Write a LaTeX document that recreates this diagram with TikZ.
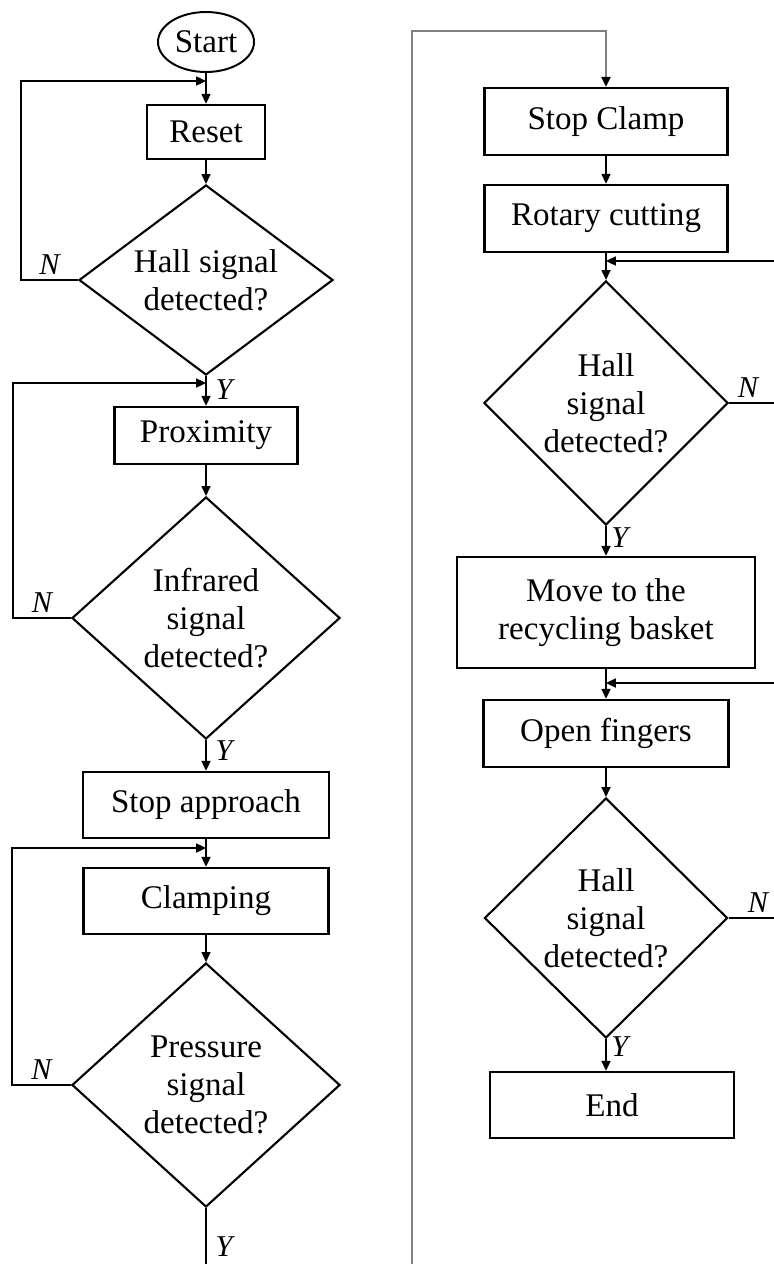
\documentclass[tikz,border=0pt]{standalone}
\usepackage{fontspec}
\setmainfont{Liberation Serif}
\usetikzlibrary{shapes.geometric,arrows.meta}

\newcommand{\chartfont}{\fontsize{23.5}{27}\selectfont}
\tikzset{
	process/.style={draw, line width=1.8pt, inner sep=0pt, align=center, font=\chartfont},
	decision/.style={draw, diamond, line width=1.5pt, inner sep=0pt, align=center, font=\chartfont},
	terminal/.style={draw, ellipse, line width=1.4pt, inner sep=0pt, font=\chartfont},
	flowline/.style={line width=0.9pt, -{Triangle[length=7pt,width=6.5pt]}},
	answer/.style={font=\fontsize{21.5}{24}\selectfont\itshape}
}

\begin{document}
\begin{tikzpicture}[x=0.025cm, y=-0.025cm]
	\useasboundingbox (0,0) rectangle (774,1264);
	% left column
	\node[terminal, minimum width=2.4cm, minimum height=1.5cm] (start) at (206,42) {Start};
	\node[process, minimum width=2.95cm, minimum height=1.35cm] (reset) at (206,132) {Reset};
	\node[decision, shape aspect=1.3, minimum width=6.35cm, minimum height=4.75cm] (hall1) at (206,280) {Hall signal\\detected?};
	\node[process, minimum width=4.575cm, minimum height=1.425cm] (proximity) at (206,435.5) {Proximity};
	\node[decision, minimum width=6.7cm, minimum height=6.05cm] (infrared) at (206,618) {Infrared\\signal\\detected?};
	\node[process, minimum width=6.15cm, minimum height=1.65cm] (stopapp) at (206,805) {Stop approach};
	\node[process, minimum width=6.125cm, minimum height=1.65cm] (clamping) at (206,901) {Clamping};
	\node[decision, minimum width=6.7cm, minimum height=6.1cm] (pressure) at (206,1085) {Pressure\\signal\\detected?};
	% right column
	\node[process, minimum width=6.075cm, minimum height=1.675cm] (stopclamp) at (606,121.5) {Stop Clamp};
	\node[process, minimum width=6.075cm, minimum height=1.675cm] (rotary) at (606,218.5) {Rotary cutting};
	\node[decision, minimum width=6.1cm, minimum height=6.1cm] (hall2) at (606,403) {Hall\\signal\\detected?};
	\node[process, minimum width=7.45cm, minimum height=2.775cm] (move) at (606,612.5) {Move to the\\recycling basket};
	\node[process, minimum width=6.125cm, minimum height=1.675cm] (openf) at (606,733.5) {Open fingers};
	\node[decision, minimum width=6.075cm, minimum height=6cm] (hall3) at (606,918) {Hall\\signal\\detected?};
	\node[process, minimum width=6.1cm, minimum height=1.65cm] (endbox) at (612,1105) {End};

	% where the loops come back in
	\coordinate (backA) at (206,81);
	\coordinate (backB) at (206,383);
	\coordinate (backC) at (206,848);
	\coordinate (backD) at (606,261);
	\coordinate (backE) at (606,683);
	\coordinate (cutL) at (206,1270);
	\coordinate (cutR) at (412,1270);
	\coordinate (over) at (412,31);

	\draw[flowline] (start) -- (reset);
	\draw[flowline] (reset) -- (hall1);
	\draw[flowline] (hall1.south) -- node[answer, right, xshift=3pt, pos=0.45] {Y} (proximity.north);
	\draw[flowline] (hall1.west) -- ++(-57,0) node[answer, midway, above] {N} |- (backA);
	\draw[flowline] (proximity) -- (infrared);
	\draw[flowline] (infrared.south) -- node[answer, right, xshift=3pt, pos=0.33] {Y} (stopapp.north);
	\draw[flowline] (infrared.west) -- ++(-58,0) node[answer, midway, above] {N} |- (backB);
	\draw[flowline] (stopapp) -- (clamping);
	\draw[flowline] (clamping) -- (pressure);
	\draw[flowline] (pressure.west) -- ++(-59,0) node[answer, midway, above] {N} |- (backC);
	\draw[line width=0.9pt] (pressure.south) -- node[answer, right, xshift=3pt, pos=0.62] {Y} (cutL);

	\draw[line width=1.4pt, black!50, -{Triangle[length=7pt,width=6.5pt,black]}] (cutR) -- (over) -| (stopclamp.north);
	\draw[flowline] (stopclamp) -- (rotary);
	\draw[flowline] (rotary) -- (hall2);
	\draw[flowline] (hall2.south) -- node[answer, right, pos=0.38] {Y} (move.north);
	\draw[flowline] (hall2.east) -- ++(70,0) node[answer, pos=0.27, above] {N} |- (backD);
	\draw[flowline] (move) -- (openf);
	\draw[flowline] (openf) -- (hall3);
	\draw[flowline] (hall3.south) -- node[answer, right, pos=0.25] {Y} (hall3.south |- endbox.north);
	\draw[flowline] (hall3.east) -- ++(70,0) node[answer, pos=0.42, above] {N} |- (backE);
\end{tikzpicture}
\end{document}
